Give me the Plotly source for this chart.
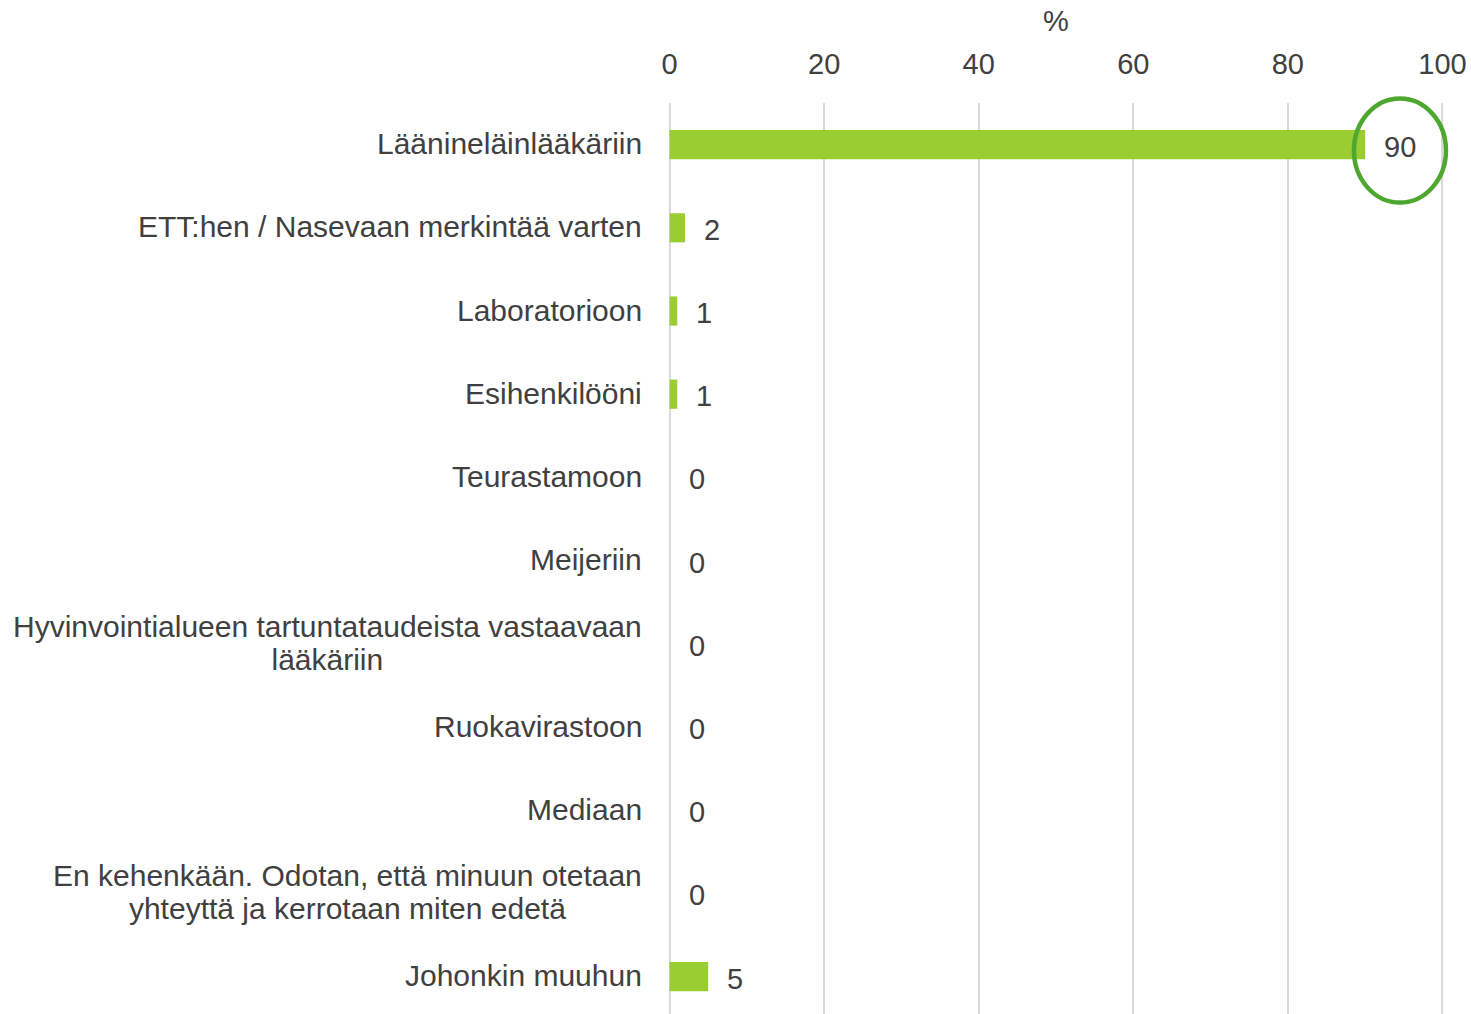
import plotly.graph_objects as go

categories = [
    "Läänineläinlääkäriin",
    "ETT:hen / Nasevaan merkintää varten",
    "Laboratorioon",
    "Esihenkilööni",
    "Teurastamoon",
    "Meijeriin",
    "Hyvinvointialueen tartuntataudeista vastaavaan<br>lääkäriin",
    "Ruokavirastoon",
    "Mediaan",
    "En kehenkään. Odotan, että minuun otetaan<br>yhteyttä ja kerrotaan miten edetä",
    "Johonkin muuhun",
]
values = [90, 2, 1, 1, 0, 0, 0, 0, 0, 0, 5]
x_ticks = [0, 20, 40, 60, 80, 100]
highlight_index = 0

FONT = "Liberation Sans, Arial, sans-serif"
TXT = "#404040"
BAR = "#9ACD32"
CIRCLE = "#4EA72E"

W, H = 1471, 1014
ML, MR, MT, MB = 668, 27, 103, 0
XR = [-0.2, 100.2]
ROW_PX = 83.2

ypos = list(range(len(categories)))

fig = go.Figure()
fig.add_trace(go.Bar(
    x=values, y=ypos, orientation="h",
    marker=dict(color=BAR, line=dict(width=0)),
    width=0.35, hoverinfo="skip",
))

# value labels
for v, y in zip(values, ypos):
    fig.add_annotation(x=v, y=y, xref="x", yref="y", text=str(v),
                       showarrow=False, xanchor="left", xshift=17, yshift=-2,
                       font=dict(family=FONT, size=29, color=TXT))

# category labels (tighter line spacing: small base font, larger span font)
LABEL_SIZE = 30
for c, y in zip(categories, ypos):
    lines = c.split("<br>")
    txt = "<br>".join(f'<span style="font-size:{LABEL_SIZE}px">{ln}</span>' for ln in lines)
    fig.add_annotation(x=0, y=y, xref="x", yref="y", text=txt,
                       showarrow=False, xanchor="right", align="center",
                       xshift=-26, yshift=1,
                       font=dict(family=FONT, size=25.4, color=TXT))

ph = H - MT - MB
pw = W - ML - MR
ymax = ph / ROW_PX - 0.5
yrng = ymax + 0.5
def yp(yv):
    return (ymax - yv) / yrng
def xp(xv):
    return (xv - XR[0]) / (XR[1] - XR[0])
v = values[highlight_index]
cx = xp(v + 4.5)
cy = yp(highlight_index) - 6 / ph
rx = 46 / pw
ry = 52 / ph
fig.add_shape(type="circle", xref="paper", yref="paper",
              x0=cx - rx, x1=cx + rx, y0=cy - ry, y1=cy + ry,
              line=dict(color=CIRCLE, width=4.5), layer="above")

fig.update_layout(
    width=W, height=H,
    margin=dict(l=ML, r=MR, t=MT, b=MB),
    paper_bgcolor="white", plot_bgcolor="white",
    showlegend=False,
    font=dict(family=FONT, size=29, color=TXT),
    xaxis=dict(
        side="top", range=XR, tickvals=x_ticks,
        showgrid=True, gridcolor="#D9D9D9", gridwidth=2,
        zeroline=False, showline=False, ticks="",
        tickfont=dict(family=FONT, size=29, color=TXT),
        ticklabelstandoff=22,
        title=dict(text="%", font=dict(family=FONT, size=29, color=TXT), standoff=8),
    ),
    yaxis=dict(
        range=[ymax, -0.5], showticklabels=False, showgrid=False,
        zeroline=False, showline=False, ticks="",
    ),
)

fig.write_html(
    "out.html",
    config={"displayModeBar": False},
    post_script="document.body.style.margin='0';document.body.style.overflow='hidden';",
)
